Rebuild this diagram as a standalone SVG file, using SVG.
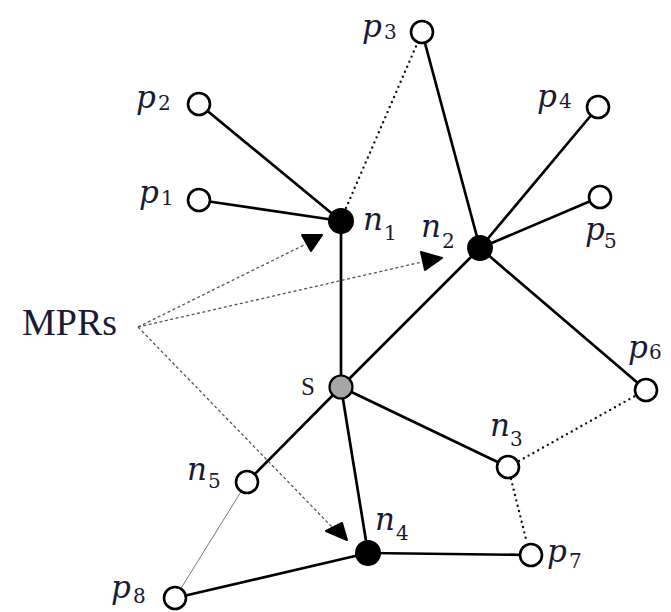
<svg xmlns="http://www.w3.org/2000/svg" width="671" height="612" viewBox="0 0 671 612">
<style>
.e{stroke:#000;stroke-width:2.7;fill:none}
.thin{stroke:#777;stroke-width:1;fill:none}
.dot{stroke:#111;stroke-width:2.4;stroke-dasharray:0 5.5;stroke-linecap:round;fill:none}
.dash{stroke:#555;stroke-width:1.3;stroke-dasharray:3 2.5;fill:none}
.open{fill:#fff;stroke:#000;stroke-width:2.6}
.mpr{fill:#000;stroke:#000;stroke-width:2;stroke-linejoin:round}
.blk{fill:#000}
.src{fill:#a6a6a6;stroke:#000;stroke-width:2.2}
text{font-family:"DejaVu Serif","Liberation Serif",serif;fill:#1a1a33}
.v{font-style:italic;font-size:31px}
.s{font-style:normal;font-size:20px}
.m{font-family:"Liberation Serif","DejaVu Serif",serif;font-size:38px}
</style>
<rect width="671" height="612" fill="#fff"/>
<g id="connectors">
<line class="e" x1="199" y1="104" x2="341" y2="221"/>
<line class="e" x1="199" y1="200" x2="341" y2="221"/>
<line class="e" x1="422" y1="32" x2="480" y2="248"/>
<line class="e" x1="341" y1="221" x2="341" y2="387"/>
<line class="e" x1="341" y1="387" x2="480" y2="248"/>
<line class="e" x1="480" y1="248" x2="598" y2="107"/>
<line class="e" x1="480" y1="248" x2="600" y2="197"/>
<line class="e" x1="480" y1="248" x2="646" y2="390"/>
<line class="e" x1="341" y1="387" x2="508" y2="467"/>
<line class="e" x1="341" y1="387" x2="247" y2="482"/>
<line class="e" x1="341" y1="387" x2="368" y2="553"/>
<line class="e" x1="368" y1="553" x2="531" y2="555"/>
<line class="e" x1="368" y1="553" x2="175" y2="598"/>
<line class="thin" x1="247" y1="482" x2="175" y2="598"/>
<line class="dot" x1="346" y1="208" x2="417" y2="44"/>
<line class="dot" x1="519" y1="461" x2="635" y2="396"/>
<line class="dot" x1="511" y1="479" x2="527" y2="543"/>
<line class="dash" x1="138" y1="327" x2="306" y2="244"/>
<line class="dash" x1="138" y1="327" x2="422" y2="262"/>
<line class="dash" x1="138" y1="327" x2="332" y2="527"/>
<polygon class="mpr" points="302,235 322,235 311,251"/>
<polygon class="mpr" points="421,252 442,258 425,270"/>
<polygon class="mpr" points="326,531 342,523 347,540"/>
</g>
<g id="p3"><circle class="open" cx="422" cy="32" r="11"/><text><tspan class="v" x="362" y="37">p</tspan><tspan class="s" x="384" y="39">3</tspan></text></g>
<g id="p2"><circle class="open" cx="199" cy="104" r="11"/><text><tspan class="v" x="136" y="108">p</tspan><tspan class="s" x="158" y="110">2</tspan></text></g>
<g id="p1"><circle class="open" cx="199" cy="200" r="11"/><text><tspan class="v" x="139" y="203">p</tspan><tspan class="s" x="161" y="205">1</tspan></text></g>
<g id="n1"><circle class="blk" cx="341" cy="221" r="13"/><text><tspan class="v" x="363" y="230">n</tspan><tspan class="s" x="384" y="240">1</tspan></text></g>
<g id="p4"><circle class="open" cx="598" cy="107" r="11"/><text><tspan class="v" x="537" y="107">p</tspan><tspan class="s" x="559" y="108">4</tspan></text></g>
<g id="p5"><circle class="open" cx="600" cy="197" r="11"/><text><tspan class="v" x="585" y="240">p</tspan><tspan class="s" x="604" y="248">5</tspan></text></g>
<g id="n2"><circle class="blk" cx="480" cy="248" r="13"/><text><tspan class="v" x="421" y="237">n</tspan><tspan class="s" x="442" y="248">2</tspan></text></g>
<g id="MPRs"><text class="m" x="22" y="335">MPRs</text></g>
<g id="S"><circle class="src" cx="341" cy="387" r="11.5"/><text class="m" x="301" y="395" style="font-size:25px">S</text></g>
<g id="p6"><circle class="open" cx="646" cy="390" r="11"/><text><tspan class="v" x="628" y="358">p</tspan><tspan class="s" x="649" y="359">6</tspan></text></g>
<g id="n3"><circle class="open" cx="508" cy="467" r="11"/><text><tspan class="v" x="490" y="436">n</tspan><tspan class="s" x="510" y="446">3</tspan></text></g>
<g id="n5"><circle class="open" cx="247" cy="482" r="11"/><text><tspan class="v" x="187" y="480">n</tspan><tspan class="s" x="208" y="488">5</tspan></text></g>
<g id="n4"><circle class="blk" cx="368" cy="553" r="13"/><text><tspan class="v" x="375" y="530">n</tspan><tspan class="s" x="396" y="540">4</tspan></text></g>
<g id="p7"><circle class="open" cx="531" cy="555" r="11"/><text><tspan class="v" x="547" y="562">p</tspan><tspan class="s" x="569" y="568">7</tspan></text></g>
<g id="p8"><circle class="open" cx="175" cy="598" r="11"/><text><tspan class="v" x="111" y="598">p</tspan><tspan class="s" x="133" y="603">8</tspan></text></g>
</svg>
